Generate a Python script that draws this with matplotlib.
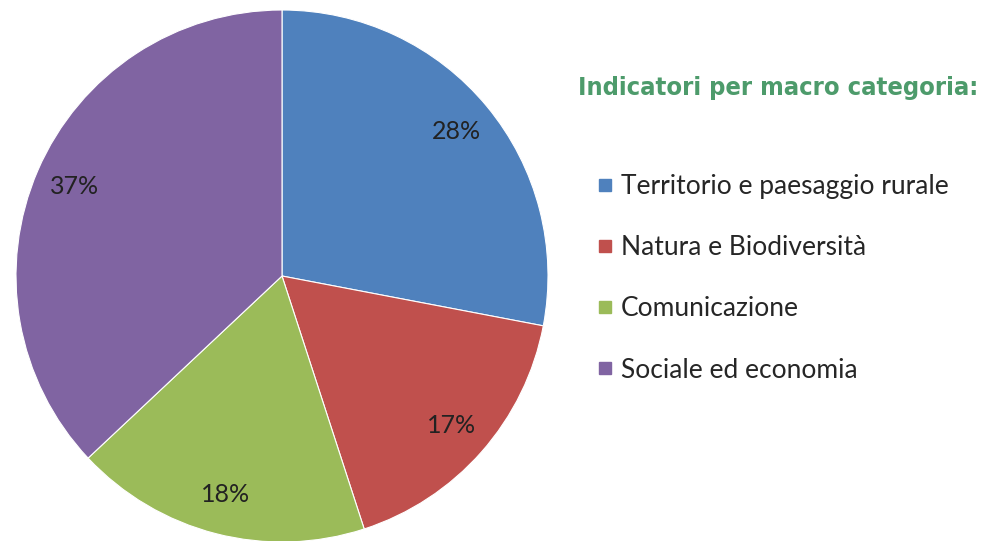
"""Pie chart: indicatori per macro categoria."""
import matplotlib
matplotlib.use("Agg")
import matplotlib.pyplot as plt
from matplotlib.lines import Line2D

categories = ["Territorio e paesaggio rurale", "Natura e Biodiversità",
              "Comunicazione", "Sociale ed economia"]
shares = [28, 17, 18, 37]
colors = ["#4f81bd", "#c0504d", "#9bbb59", "#8064a2"]
title = "Indicatori per macro categoria:"

W, H = 989, 541
fig = plt.figure(figsize=(W / 100, H / 100), dpi=100)

# pie axes placed in pixels: centre (282, 276), radius 266
cx, cy, r = 282, 276, 266
ax = fig.add_axes([(cx - r) / W, (H - cy - r) / H, 2 * r / W, 2 * r / H])
wedges, _, autotexts = ax.pie(
    shares, colors=colors, startangle=90, counterclock=False,
    autopct="%d%%", pctdistance=0.85, radius=1.0,
    wedgeprops=dict(linewidth=0.8, edgecolor="white"),
    textprops=dict(family=["Lato", "DejaVu Sans"], fontsize=18, color="#222222"),
)
ax.set_xlim(-1, 1); ax.set_ylim(-1, 1)
ax.set_aspect("equal"); ax.axis("off")

fig.text(578 / W, 1 - 88 / H, title, ha="left", va="center",
         family="DejaVu Sans", fontstretch="condensed", fontweight="bold",
         fontsize=18.3, color="#4d9b6b")

handles = [Line2D([], [], marker="s", linestyle="none", markersize=9,
                  markerfacecolor=c, markeredgecolor=c) for c in colors]
fig.legend(handles, categories, loc="upper left",
           bbox_to_anchor=(585 / W, 1 - 161 / H), frameon=False,
           prop=dict(family=["Lato", "DejaVu Sans"], size=19),
           labelcolor="#262626", handlelength=0.55, handletextpad=0.3,
           labelspacing=1.37, borderpad=0)

fig.savefig("out.png", dpi=100, facecolor="white")
